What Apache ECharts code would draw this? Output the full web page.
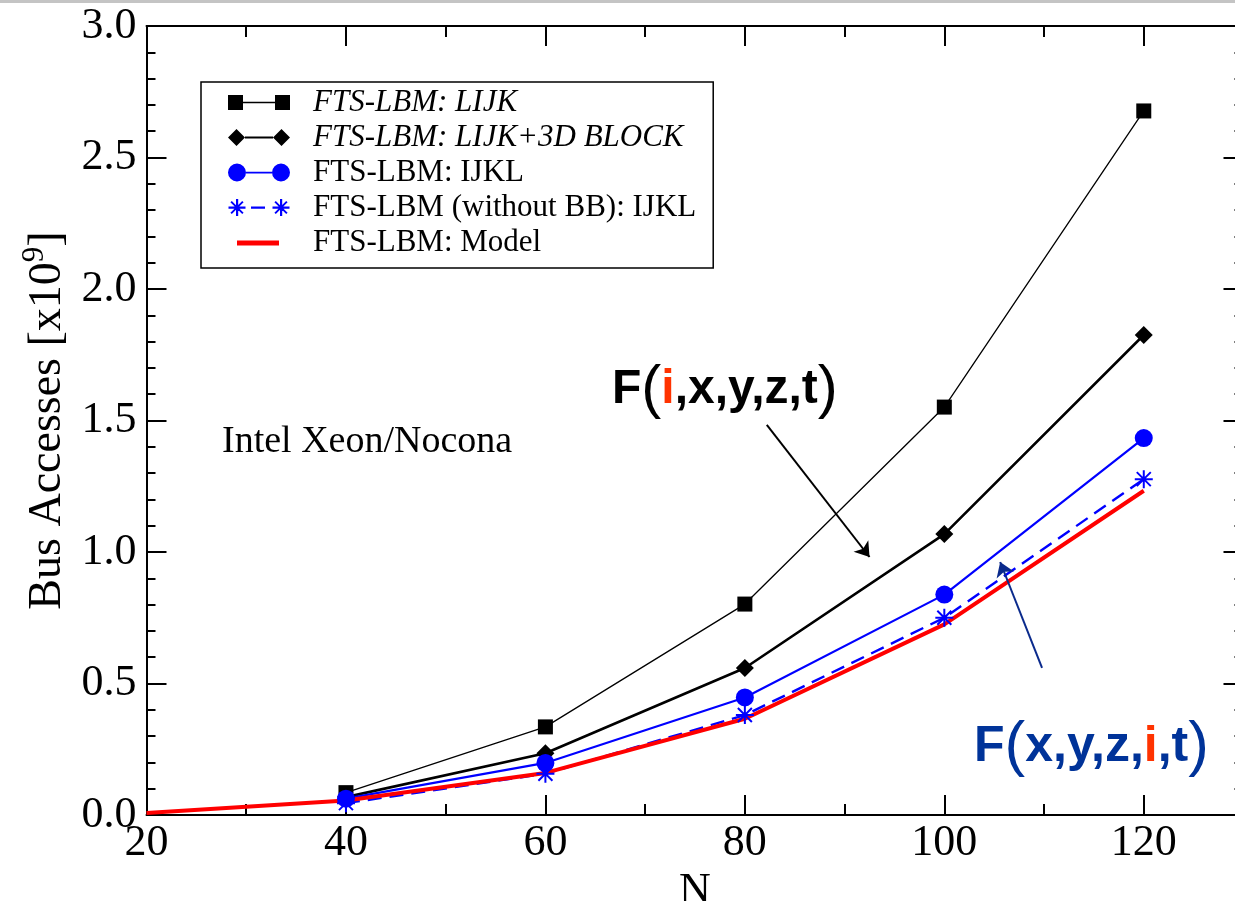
<!DOCTYPE html>
<html>
<head>
<meta charset="utf-8">
<script src="https://cdn.jsdelivr.net/npm/echarts@6/dist/echarts.min.js"></script>
<style>
html,body{margin:0;padding:0;background:#fff;}
#chart{width:1235px;height:901px;}
</style>
</head>
<body>
<div id="chart"></div>
<script>
// ---- data ----
const nValues = [40, 60, 80, 100, 120];
const lijk = [0.085, 0.335, 0.802, 1.551, 2.677];
const lijk3d = [0.068, 0.235, 0.559, 1.068, 1.825];
const ijkl = [0.062, 0.198, 0.447, 0.838, 1.433];
const ijklNoBB = [0.045, 0.157, 0.38, 0.75, 1.277];
const modelN = [20, 40, 60, 80, 100, 120];
const model = [0.008, 0.055, 0.16, 0.366, 0.725, 1.233];
const seriesNames = ['FTS-LBM: LIJK', 'FTS-LBM: LIJK+3D BLOCK', 'FTS-LBM: IJKL', 'FTS-LBM (without BB): IJKL', 'FTS-LBM: Model'];
const xTicks = [20, 40, 60, 80, 100, 120];
const yTicks = [0.0, 0.5, 1.0, 1.5, 2.0, 2.5, 3.0];
// annotation arrows (data coordinates: start, end)
const arrowBlack = [[82.2, 1.483], [92.5, 0.981]];
const arrowBlue = [[109.8, 0.559], [105.6, 0.962]];

const serif = '"Liberation Serif", "Times New Roman", serif';
const sans = '"Liberation Sans", Arial, sans-serif';

const asterisk = 'path://M9,1 h2 v18 h-2 z M1,9 h18 v2 h-18 z M2.3,3.7 L3.7,2.3 L17.7,16.3 L16.3,17.7 Z M16.3,2.3 L17.7,3.7 L3.7,17.7 L2.3,16.3 Z';
const corners = ' M0,0 L0.01,0 L0,0.01 Z M62,18 L61.99,18 L62,17.99 Z';
const iconSq = 'path://M0,1.5 h15 v15 h-15 z M15,8.3 h32 v1.4 h-32 z M47,1.5 h15 v15 h-15 z' + corners;
const iconDia = 'path://M0,9 L8.5,0.5 L17,9 L8.5,17.5 Z M17,8 h28 v2 h-28 z M45,9 L53.5,0.5 L62,9 L53.5,17.5 Z' + corners;
const iconCirc = 'path://M0,9 A9,9 0 1 1 18,9 A9,9 0 1 1 0,9 Z M18,8.2 h26 v1.8 h-26 z M44,9 A9,9 0 1 1 62,9 A9,9 0 1 1 44,9 Z' + corners;
const iconStar = 'path://M8,0.5 h2.2 v17 h-2.2 z M0.5,8 h17 v2.2 h-17 z M2.4,3.8 L3.8,2.4 L15.6,14.2 L14.2,15.6 Z M14.2,2.4 L15.6,3.8 L3.8,15.6 L2.4,14.2 Z'
  + ' M23,8 h14 v2.2 h-14 z'
  + ' M52,0.5 h2.2 v17 h-2.2 z M44.5,8 h17 v2.2 h-17 z M46.4,3.8 L47.8,2.4 L59.6,14.2 L58.2,15.6 Z M58.2,2.4 L59.6,3.8 L47.8,15.6 L46.4,14.2 Z' + corners;
const iconRed = 'path://M9,7 h42 v5 h-42 z' + corners;

function pairs(xs, ys) { return xs.map((x, i) => [x, ys[i]]); }

const chart = echarts.init(document.getElementById('chart'));
const axisCommonX = {
  type: 'value', min: 20, max: 130, interval: 20,
  axisLine: { show: true, onZero: false, lineStyle: { color: '#000', width: 2 } },
  axisTick: { show: true, inside: true, length: 20, lineStyle: { color: '#000', width: 2 } },
  minorTick: { show: true, splitNumber: 2, length: 11, lineStyle: { color: '#000', width: 2 } },
  splitLine: { show: false }, minorSplitLine: { show: false }
};
const axisCommonY = {
  type: 'value', min: 0, max: 3, interval: 0.5,
  axisLine: { show: true, onZero: false, lineStyle: { color: '#000', width: 2 } },
  axisTick: { show: true, inside: true, length: 20, lineStyle: { color: '#000', width: 2 } },
  minorTick: { show: true, splitNumber: 5, length: 9, lineStyle: { color: '#000', width: 2 } },
  splitLine: { show: false }, minorSplitLine: { show: false }
};

const option = {
  animation: false,
  backgroundColor: '#fff',
  grid: { left: 146.5, top: 26, width: 1097, height: 789, containLabel: false, outerBoundsMode: 'none' },
  xAxis: [
    Object.assign({}, axisCommonX, {
      position: 'bottom',
      name: 'N', nameLocation: 'middle', nameGap: 46,
      nameTextStyle: { fontFamily: serif, fontSize: 44, color: '#000' },
      axisLabel: {
        fontFamily: serif, fontSize: 44, color: '#000', margin: 6,
        formatter: v => (xTicks.indexOf(v) >= 0 ? String(v) : '')
      }
    }),
    Object.assign({}, axisCommonX, { position: 'top', axisLabel: { show: false } })
  ],
  yAxis: [
    Object.assign({}, axisCommonY, {
      position: 'left',
      name: '{a|Bus Accesses [x10}{s|9}{a|]}', nameLocation: 'middle', nameGap: 70,
      nameTextStyle: {
        rich: {
          a: { fontFamily: serif, fontSize: 46, color: '#000' },
          s: { fontFamily: serif, fontSize: 31, color: '#000', padding: [0, 0, 26, 0] }
        }
      },
      axisLabel: {
        fontFamily: serif, fontSize: 44, color: '#000', margin: 10,
        formatter: v => (yTicks.indexOf(v) >= 0 ? v.toFixed(1) : '')
      }
    }),
    Object.assign({}, axisCommonY, { position: 'right', axisLabel: { show: false } })
  ],
  legend: {
    orient: 'vertical', left: 201, top: 82,
    padding: [3, 17, 8, 27],
    itemGap: 0, itemWidth: 62, itemHeight: 18,
    borderColor: '#000', borderWidth: 1.5, backgroundColor: '#fff',
    selectedMode: false,
    textStyle: { fontFamily: serif, fontSize: 31, color: '#000', lineHeight: 35, padding: [0, 0, 0, 18] },
    data: [
      { name: seriesNames[0], icon: iconSq, itemStyle: { color: '#000', borderWidth: 0 }, textStyle: { fontStyle: 'italic' } },
      { name: seriesNames[1], icon: iconDia, itemStyle: { color: '#000', borderWidth: 0 }, textStyle: { fontStyle: 'italic' } },
      { name: seriesNames[2], icon: iconCirc, itemStyle: { color: '#0000ff', borderWidth: 0 } },
      { name: seriesNames[3], icon: iconStar, itemStyle: { color: '#0000ff', borderWidth: 0 } },
      { name: seriesNames[4], icon: iconRed, itemStyle: { color: '#ff0000', borderWidth: 0 } }
    ]
  },
  series: [
    {
      name: seriesNames[0], type: 'line', data: pairs(nValues, lijk),
      symbol: 'rect', symbolSize: 15, color: '#000',
      lineStyle: { color: '#000', width: 1.3 }, itemStyle: { color: '#000' }
    },
    {
      name: seriesNames[1], type: 'line', data: pairs(nValues, lijk3d),
      symbol: 'diamond', symbolSize: 18, color: '#000',
      lineStyle: { color: '#000', width: 2.6 }, itemStyle: { color: '#000' }
    },
    {
      name: seriesNames[2], type: 'line', data: pairs(nValues, ijkl),
      symbol: 'circle', symbolSize: 18, color: '#0000ff',
      lineStyle: { color: '#0000ff', width: 2.2 }, itemStyle: { color: '#0000ff' }
    },
    {
      name: seriesNames[3], type: 'line', data: pairs(nValues, ijklNoBB),
      symbol: asterisk, symbolSize: 18, color: '#0000ff',
      lineStyle: { color: '#0000ff', width: 2.4, type: [14, 8] }, itemStyle: { color: '#0000ff' }
    },
    {
      name: seriesNames[4], type: 'line', data: pairs(modelN, model),
      symbol: 'none', color: '#ff0000',
      lineStyle: { color: '#ff0000', width: 4 },
      markLine: {
        silent: true, animation: false,
        symbol: ['none', 'arrow'], symbolSize: 14,
        label: { show: false },
        emphasis: { disabled: true },
        data: [
          [{ coord: arrowBlack[0], lineStyle: { color: '#000', width: 2, type: 'solid' }, itemStyle: { color: '#000' } }, { coord: arrowBlack[1] }],
          [{ coord: arrowBlue[0], lineStyle: { color: '#0a2a8c', width: 2, type: 'solid' }, itemStyle: { color: '#0a2a8c' } }, { coord: arrowBlue[1] }]
        ]
      }
    }
  ],
  graphic: [
    { type: 'rect', left: 0, top: 0, shape: { width: 1235, height: 3 }, style: { fill: '#c4c4c4' }, silent: true },
    {
      type: 'text', left: 222, top: 423, silent: true,
      style: { text: 'Intel Xeon/Nocona', fontFamily: serif, fontSize: 38, fill: '#000' }
    },
    {
      type: 'text', left: 612, top: 360, silent: true,
      style: {
        text: '{b|F}{p|(}{r|i}{b|,x,y,z,t}{p|)}',
        rich: {
          b: { fontFamily: sans, fontSize: 48, fontWeight: 'bold', fill: '#000' },
          r: { fontFamily: sans, fontSize: 48, fontWeight: 'bold', fill: '#ff3300' },
          p: { fontFamily: sans, fontSize: 60, fill: '#000' }
        }
      }
    },
    {
      type: 'text', left: 974, top: 716, silent: true,
      style: {
        text: '{b|F}{p|(}{b|x,y,z,}{r|i}{b|,t}{p|)}',
        rich: {
          b: { fontFamily: sans, fontSize: 50, fontWeight: 'bold', fill: '#003399' },
          r: { fontFamily: sans, fontSize: 50, fontWeight: 'bold', fill: '#ff3300' },
          p: { fontFamily: sans, fontSize: 62, fill: '#003399' }
        }
      }
    }
  ]
};
chart.setOption(option);
</script>
</body>
</html>
